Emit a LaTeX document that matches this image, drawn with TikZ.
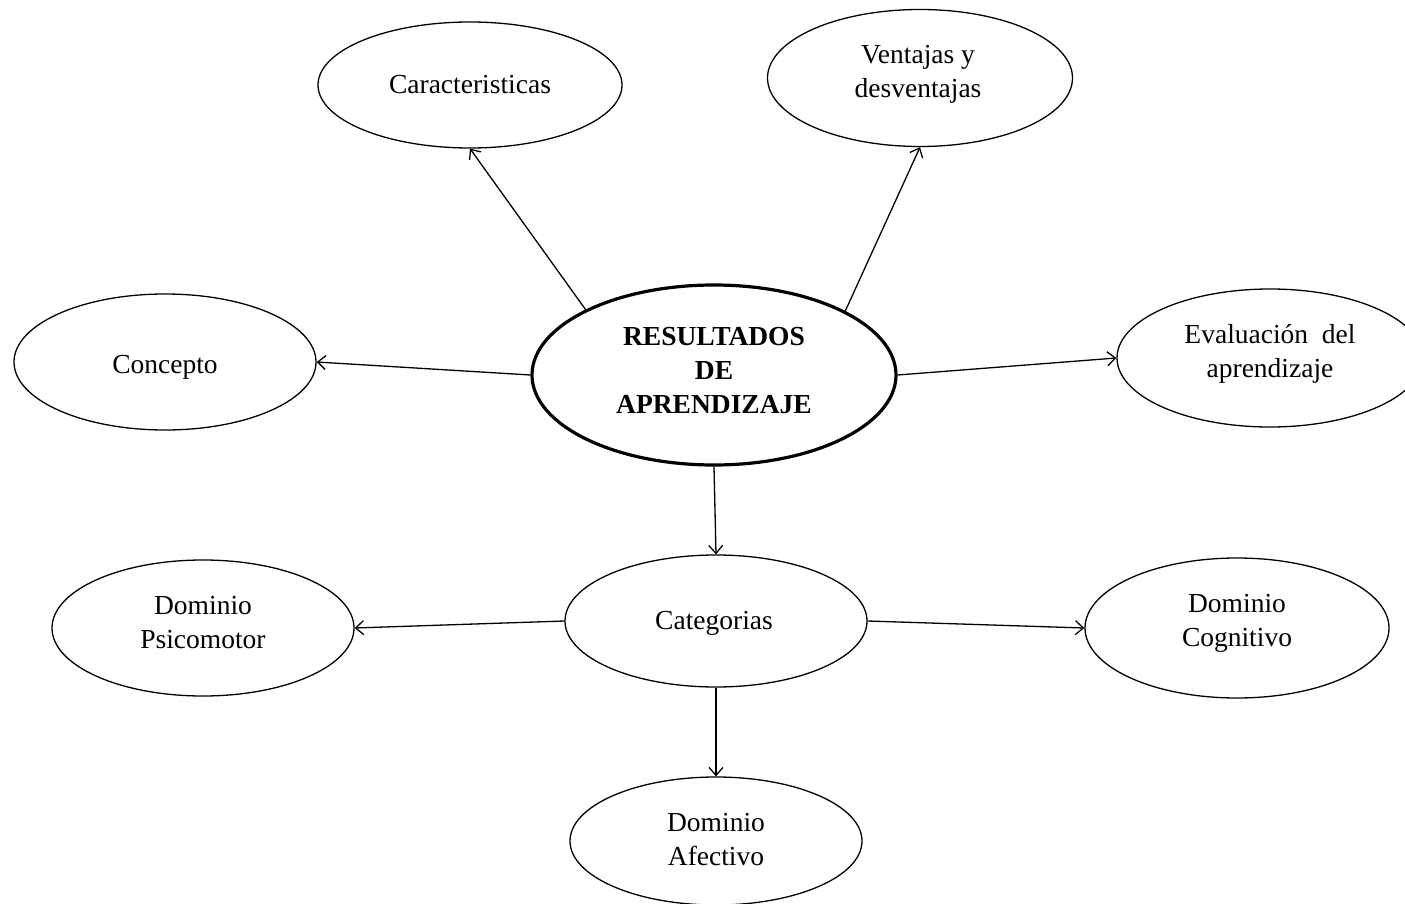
\documentclass[tikz,border=0pt]{standalone}
\usepackage{fontspec}
\setmainfont{Liberation Serif}
\usetikzlibrary{shapes.geometric,arrows.meta}
\begin{document}
\begin{tikzpicture}[x=1pt,y=-1pt,
  oval/.style={draw, ellipse, line width=1.3pt, inner sep=0pt},
  txt/.style={align=center, inner sep=0pt, font=\fontsize{27.5}{34}\selectfont},
  conn/.style={line width=1.3pt, -{Straight Barb[length=8pt,width=14pt,line width=1.3pt]}}]
\useasboundingbox (0,0) rectangle (1405,904);
\clip (0,0) rectangle (1405,904);
\fill[white] (0,0) rectangle (1405,904);
% ellipses
\node[oval, minimum width=304pt, minimum height=126pt] (car) at (470,85) {};
\node[oval, minimum width=305pt, minimum height=137pt] (ven) at (920,78) {};
\node[oval, minimum width=302pt, minimum height=136pt] (con) at (165,362) {};
\node[oval, line width=3.2pt, minimum width=364pt, minimum height=180pt] (ctr) at (714,375) {};
\node[oval, minimum width=306pt, minimum height=138pt] (eva) at (1270,358) {};
\node[oval, minimum width=302pt, minimum height=132pt] (cat) at (716,621) {};
\node[oval, minimum width=302pt, minimum height=136pt] (psi) at (203,628) {};
\node[oval, minimum width=304pt, minimum height=140pt] (cog) at (1237,628) {};
\node[oval, minimum width=292pt, minimum height=128pt] (afe) at (716,841) {};
% texts
\node[txt] (tcar) at (470,85) {Caracteristicas};
\node[txt] (tven) at (918,74) {Ventajas y\\desventajas};
\node[txt] (tcon) at (165,367) {Concepto};
\node[txt, font=\fontsize{27.5}{34}\selectfont\bfseries] (tctr) at (714,371) {RESULTADOS\\DE\\APRENDIZAJE};
\node[txt] (teva) at (1270,354) {Evaluación\ \ del\\aprendizaje};
\node[txt] (tcat) at (714,623) {Categorias};
\node[txt] (tpsi) at (203,623) {Dominio\\Psicomotor};
\node[txt] (tcog) at (1237,623) {Dominio\\Cognitivo};
\node[txt] (tafe) at (716,840) {Dominio\\Afectivo};
% connectors
\draw[conn] (ctr.153) -- (car.south);
\draw[conn] (ctr.26) -- (ven.south);
\draw[conn] (ctr.west) -- (con.east);
\draw[conn] (ctr.east) -- (eva.west);
\draw[conn] (ctr.south) -- (cat.north);
\draw[conn] (cat.west) -- (psi.east);
\draw[conn] (cat.east) -- (cog.west);
\draw[conn] (cat.south) -- (afe.north);
\end{tikzpicture}
\end{document}
